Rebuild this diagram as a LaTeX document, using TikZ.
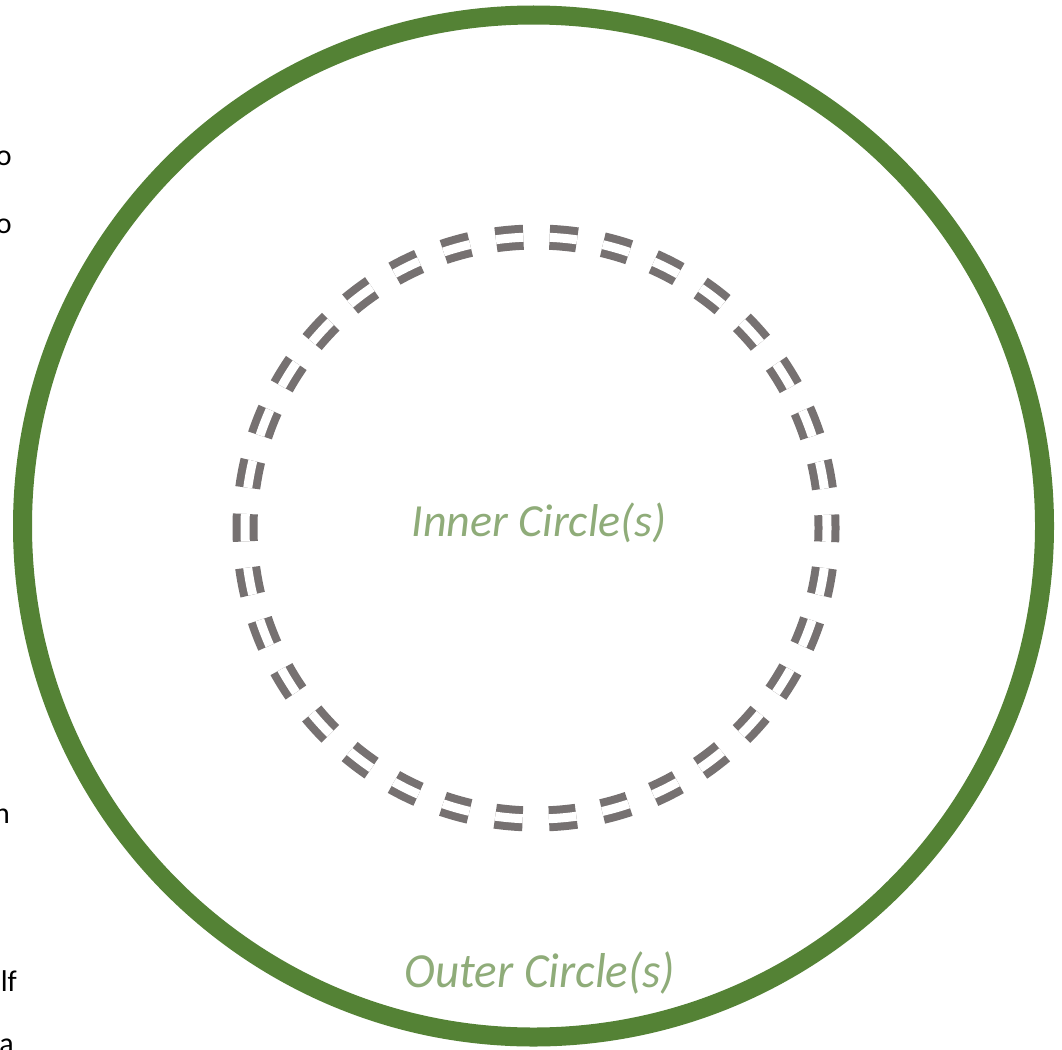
\documentclass[tikz,border=0pt]{standalone}
\usepackage{fontspec}
\setmainfont{Carlito}
\definecolor{outergreen}{RGB}{84,130,53}
\definecolor{ringgray}{RGB}{118,113,113}
\definecolor{labelgreen}{RGB}{143,172,121}
\tikzset{
  outerring/.style={draw=outergreen, line width=19pt},
  innerring/.style={draw=ringgray, line width=8pt, double=white, double distance=9pt,
    dash pattern=on 27.5pt off 26.3pt, dash phase=13.7pt},
  circlelabel/.style={text=labelgreen, inner sep=0pt, font=\itshape},
  fragment/.style={text=black, inner sep=0pt, font=\fontsize{30}{36}\selectfont, anchor=base east}
}
\begin{document}
\begin{tikzpicture}[x=1pt,y=-1pt]
\useasboundingbox (0,0) rectangle (1062,1049);
\clip (0,0) rectangle (1062,1049);
\fill[white] (0,0) rectangle (1062,1049);
\coordinate (oc) at (533.5,526);
\coordinate (ic) at (536,528);
\draw[outerring] (oc) circle[radius=511];
\draw[innerring] (ic) circle[radius=291];
\node[circlelabel, font=\itshape\fontsize{46}{54}\selectfont] (inner) at (539,523) {Inner Circle(s)};
\node[circlelabel, font=\itshape\fontsize{49}{58}\selectfont, xscale=0.96] (outer) at (540,973) {Outer Circle(s)};
\node[fragment] (f1) at (12,165) {o};
\node[fragment] (f2) at (12,233) {o};
\node[fragment] (f3) at (10,823) {n};
\node[fragment] (f4) at (17,991) {lf};
\node[fragment] (f5) at (14,1053) {a};
\end{tikzpicture}
\end{document}
